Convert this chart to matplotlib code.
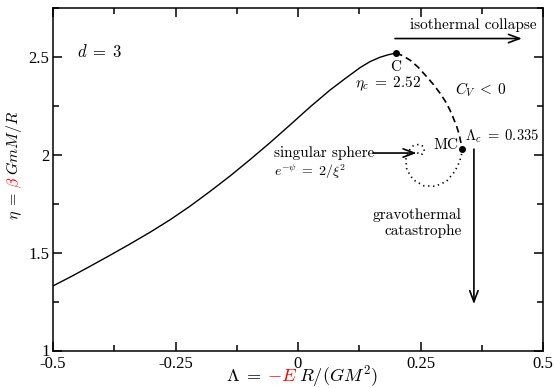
import matplotlib
matplotlib.use('Agg')
import matplotlib.pyplot as plt
from matplotlib.transforms import IdentityTransform

plt.rcParams['mathtext.fontset'] = 'cm'
plt.rcParams['font.family'] = ['Liberation Serif', 'DejaVu Serif']

# Data (Lambda, eta)
stable_lam = [-0.5, -0.465, -0.4245, -0.384, -0.343, -0.302, -0.261, -0.220, -0.180, -0.139,
              -0.098, -0.057, -0.016, 0.0245, 0.065, 0.096, 0.1265, 0.147, 0.167, 0.184, 0.2]
stable_eta = [1.330, 1.375, 1.430, 1.486, 1.544, 1.604, 1.668, 1.738, 1.812, 1.891,
              1.975, 2.062, 2.153, 2.244, 2.330, 2.389, 2.445, 2.476, 2.498, 2.511, 2.52]

unstable_lam = [0.2, 0.214, 0.229, 0.245, 0.263, 0.2765, 0.290, 0.301, 0.310, 0.317, 0.324, 0.3296, 0.335]
unstable_eta = [2.52, 2.506, 2.483, 2.448, 2.398, 2.359, 2.314, 2.272, 2.229, 2.188, 2.144, 2.097, 2.03]

spiral_lam = [0.335, 0.333, 0.327, 0.320, 0.303, 0.280, 0.256, 0.235, 0.222, 0.220, 0.225, 0.235,
              0.248, 0.256, 0.258, 0.252, 0.246, 0.242]
spiral_eta = [2.03, 1.99, 1.95, 1.915, 1.864, 1.839, 1.842, 1.873, 1.924, 1.975, 2.017, 2.046,
              2.054, 2.042, 2.017, 2.000, 2.004, 2.017]

lam_c, eta_c = 0.2, 2.52
lam_mc, eta_mc = 0.335, 2.03

xticks = [-0.5, -0.25, 0, 0.25, 0.5]
xticklabels = ['-0.5', '-0.25', '0', '0.25', '0.5']
yticks = [1, 1.5, 2, 2.5]
yticklabels = ['1', '1.5', '2', '2.5']

fig = plt.figure(figsize=(5.55, 3.88), dpi=100)
ax = fig.add_axes([53 / 555, 1 - 350.5 / 388, 490 / 555, 342.5 / 388])

ax.plot(stable_lam, stable_eta, color='black', lw=1.0)
ax.plot(unstable_lam, unstable_eta, color='black', lw=1.2, linestyle=(0, (4, 2.5)))
ax.plot(spiral_lam, spiral_eta, color='black', lw=1.2, linestyle=(0, (0.8, 2.2)))
ax.plot([lam_c, lam_mc], [eta_c, eta_mc], 'o', color='black', ms=4)

ax.set_xlim(-0.5, 0.5)
ax.set_ylim(1, 2.75)
ax.set_xticks(xticks)
ax.set_xticklabels(xticklabels)
ax.set_xticks([-0.375, -0.125, 0.125, 0.375], minor=True)
ax.set_yticks(yticks)
ax.set_yticklabels(yticklabels)
ax.set_yticks([1.25, 1.75, 2.25, 2.75], minor=True)
ax.tick_params(which='both', direction='in', top=True, right=True, width=1.1, labelsize=12)
ax.tick_params(which='major', length=6.5)
ax.tick_params(which='minor', length=4.5)
ax.tick_params(axis='x', pad=4)
ax.tick_params(axis='y', pad=2.5)
for s in ax.spines.values():
    s.set_linewidth(1.1)

# annotations
cm = dict(family='cmr10', fontsize=11)
arrow = dict(arrowstyle='->,head_length=0.8,head_width=0.3', lw=1.2, color='black',
             shrinkA=0, shrinkB=0)
ax.text(-0.452, 2.524, r'$d\;=\;3$', fontsize=12, va='center', ha='left')
ax.text(0.486, 2.661, 'isothermal collapse', ha='right', va='center', **cm)
ax.annotate('', xy=(0.457, 2.594), xytext=(0.198, 2.594), arrowprops=arrow)
ax.text(0.2, 2.449, 'C', ha='center', va='center', **cm)
ax.text(0.116, 2.365, r'$\eta_c\;=\;2.52$', fontsize=11, ha='left', va='center')
ax.text(0.320, 2.331, r'$C_V\;<\;0$', fontsize=11, ha='left', va='center')
ax.text(0.341, 2.097, r'$\Lambda_c\;=\;0.335$', fontsize=10.5, ha='left', va='center')
ax.text(0.327, 2.051, 'MC', ha='right', va='center', **cm)
ax.text(-0.050, 2.010, 'singular sphere', ha='left', va='center', **cm)
ax.text(-0.050, 1.915, r'$e^{-\psi}\;=\;2/\xi^2$', fontsize=10, ha='left', va='center')
ax.annotate('', xy=(0.242, 2.009), xytext=(0.153, 2.009), arrowprops=arrow)
ax.annotate('', xy=(0.359, 1.237), xytext=(0.359, 2.029), arrowprops=arrow)
ax.text(0.334, 1.649, 'gravothermal\ncatastrophe', ha='right', va='center',
        multialignment='right', linespacing=1.2, **cm)


def colored_label(pieces, cx, cy, rotation, fontsize):
    # place text pieces one after another, centred on (cx, cy) in pixels;
    # each piece is (text, colour, extra gap in px after it)
    renderer = fig.canvas.get_renderer()
    texts, sizes = [], []
    for s, c, gap in pieces:
        t = fig.text(0, 0, s, color=c, fontsize=fontsize, rotation=rotation,
                     rotation_mode='anchor', ha='left', va='baseline',
                     transform=IdentityTransform())
        ext = t.get_window_extent(renderer)
        texts.append(t)
        sizes.append((ext.height if rotation == 90 else ext.width) + gap)
    pos = -sum(sizes) / 2
    for t, w in zip(texts, sizes):
        if rotation == 90:
            t.set_position((cx, cy + pos))
        else:
            t.set_position((cx + pos, cy))
        pos += w


colored_label([(r'$\Lambda\;=$', 'black', 5.5), (r'$-E$', 'red', 1.5), (r'$R/(GM^2)$', 'black', 0)],
              302, 7, 0, 13.2)
colored_label([(r'$\eta\;=$', 'black', 4.5), (r'$\beta$', 'red', 1.5), (r'$GmM/R$', 'black', 0)],
              18.5, 222.5, 90, 11.5)

fig.savefig('out.png', dpi=100)
